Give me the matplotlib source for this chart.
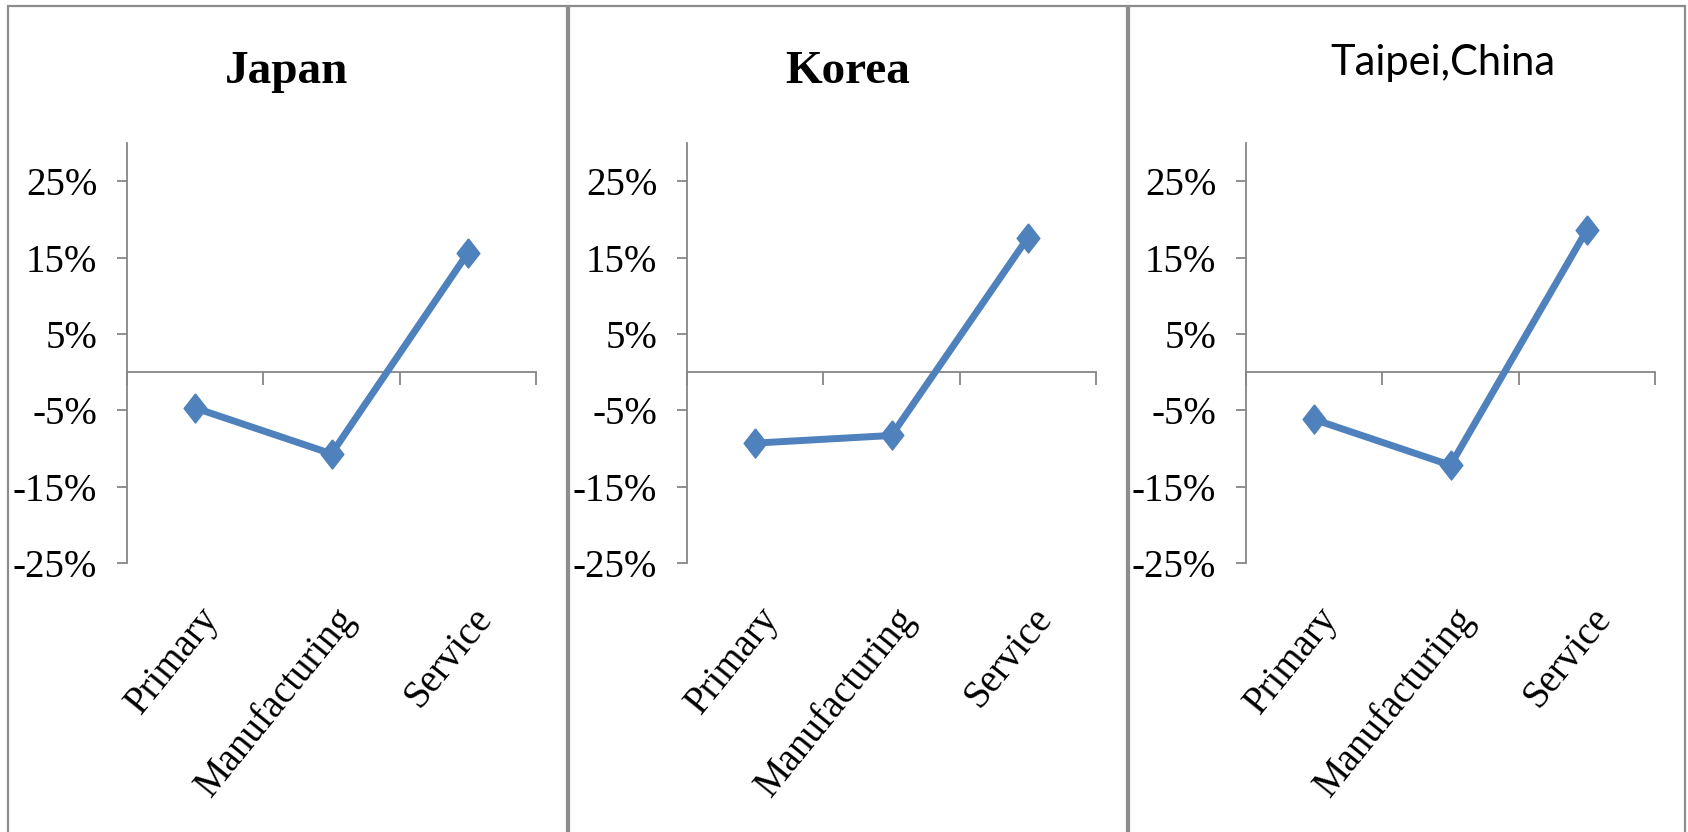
import matplotlib
matplotlib.use('Agg')
import matplotlib.pyplot as plt
from matplotlib.patches import Rectangle
from matplotlib.ticker import FuncFormatter
from matplotlib.transforms import ScaledTranslation

# 數據
sectors = ['Primary', 'Manufacturing', 'Service']
regions = ['Japan', 'Korea', 'Taipei,China']
japan = [-4.7, -10.7, 15.6]
korea = [-9.3, -8.3, 17.6]
taipei = [-6.2, -12.2, 18.6]
y_ticks = [-25, -15, -5, 5, 15, 25]

series = [japan, korea, taipei]

LINE_BLUE = '#4F81BD'
AXIS_GRAY = '#868686'
FRAME_GRAY = '#8C8C8C'
SERIF = 'Liberation Serif'

W, H = 1688, 832
fig = plt.figure(figsize=(W / 100, H / 100), dpi=100)

# 每個面板的外框 (像素)
frames = [(8, 567), (569, 1127), (1129, 1685)]
axes_left = [127, 687, 1246]
axes_w = 409
axes_top, axes_bottom = 143, 563
title_x = [287, 848, 1443]

# 略扁的菱形標記
diamond = [(0, 1), (0.78, 0), (0, -1), (-0.78, 0), (0, 1)]

for k in range(3):
    x0, x1 = frames[k]
    fig.patches.append(Rectangle((x0 / W, -0.05), (x1 - x0) / W, 1.05 - 6 / H,
                                 transform=fig.transFigure, fill=False,
                                 edgecolor=FRAME_GRAY, linewidth=1.6))

    ax = fig.add_axes([axes_left[k] / W, 1 - axes_bottom / H,
                       axes_w / W, (axes_bottom - axes_top) / H])
    ax.plot(range(len(sectors)), series[k], color=LINE_BLUE, linewidth=5,
            marker=diamond, markersize=21, solid_joinstyle='miter')
    ax.set_xlim(-0.5, len(sectors) - 0.5)
    ax.set_ylim(-25, 30)

    for s in ['top', 'right', 'bottom']:
        ax.spines[s].set_visible(False)
    ax.spines['left'].set_color(AXIS_GRAY)
    ax.spines['left'].set_linewidth(1.3)

    ax.set_yticks(y_ticks)
    ax.yaxis.set_major_formatter(FuncFormatter(lambda v, p: f'{v:.0f}%'))
    ax.tick_params(axis='y', direction='out', length=7.5, width=1.3,
                   color=AXIS_GRAY, pad=14, labelsize=28)
    for lab in ax.get_yticklabels():
        lab.set_fontfamily(SERIF)

    # 類別標籤放在圖區底部
    ax.set_xticks(range(len(sectors)))
    ax.set_xticklabels(sectors)
    ax.tick_params(axis='x', length=0, pad=27, labelsize=28)
    offset = ScaledTranslation(3 / 100, 0, fig.dpi_scale_trans)
    for lab in ax.get_xticklabels():
        lab.set_fontfamily(SERIF)
        lab.set_rotation(51)
        lab.set_ha('right')
        lab.set_va('top')
        lab.set_rotation_mode('anchor')
        lab.set_transform(lab.get_transform() + offset)

    # 零線 + 類別分隔刻度
    zero = ax.secondary_xaxis(0, transform=ax.transData)
    zero.set_xticks([i - 0.5 for i in range(len(sectors) + 1)])
    zero.set_xticklabels([])
    zero.spines['bottom'].set_color(AXIS_GRAY)
    zero.spines['bottom'].set_linewidth(1.3)
    zero.tick_params(axis='x', direction='out', length=9, width=1.3, color=AXIS_GRAY)

    if k < 2:
        fig.text(title_x[k] / W, 1 - 83 / H, regions[k], ha='center', va='baseline',
                 fontsize=34, fontweight='bold', fontfamily=SERIF)
    else:
        fig.text(title_x[k] / W, 1 - 75 / H, regions[k], ha='center', va='baseline',
                 fontsize=30, fontfamily='Lato')

fig.savefig('out.png', dpi=100)
